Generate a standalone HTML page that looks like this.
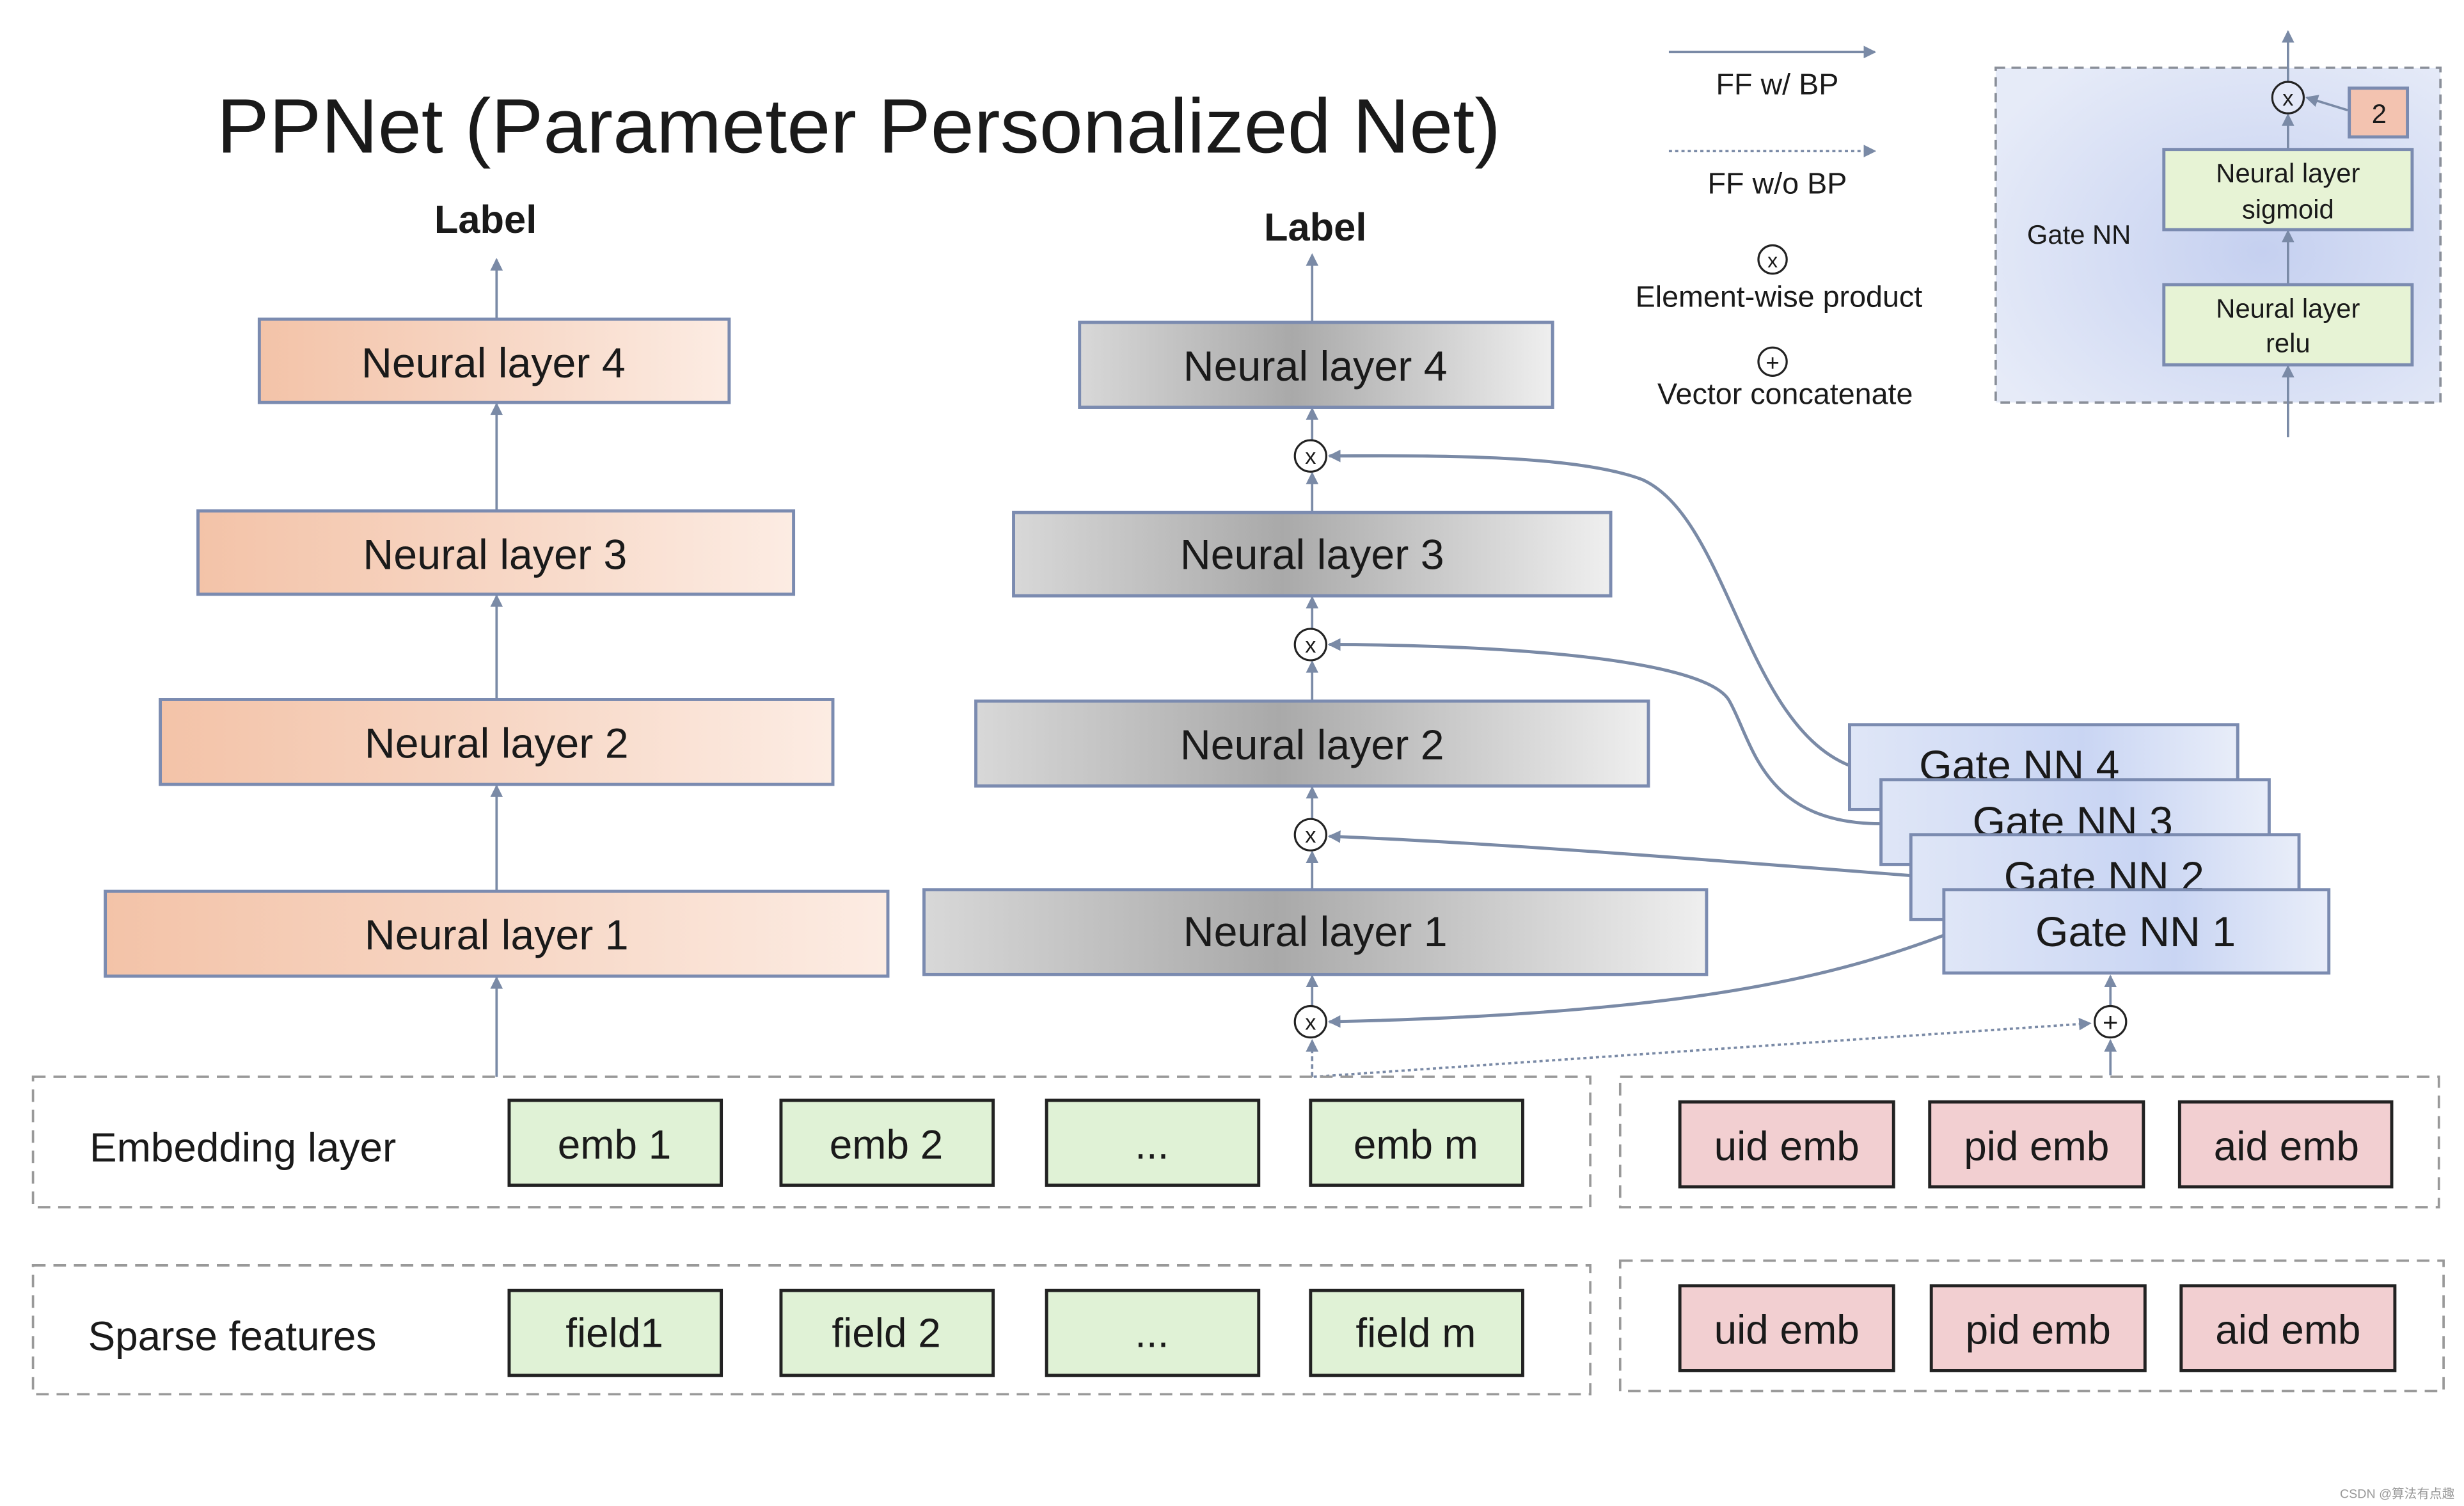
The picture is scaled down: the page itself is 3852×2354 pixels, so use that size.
<!DOCTYPE html>
<html><head><meta charset="utf-8"><style>
html,body{margin:0;padding:0;background:#fff;}
svg{display:block;}
text{font-family:"Liberation Sans",sans-serif;fill:#1a1a1a;}
</style></head><body>
<svg width="3852" height="2354" viewBox="0 0 1568 958" xmlns="http://www.w3.org/2000/svg">
<defs>
<linearGradient id="sal" x1="0" x2="1"><stop offset="0" stop-color="#f3c3a8"/><stop offset="0.5" stop-color="#f7d6c4"/><stop offset="1" stop-color="#fcece3"/></linearGradient>
<linearGradient id="gry" x1="0" x2="1"><stop offset="0" stop-color="#d8d8d8"/><stop offset="0.45" stop-color="#a9a9a9"/><stop offset="1" stop-color="#efefef"/></linearGradient>
<linearGradient id="blu" x1="0" x2="1"><stop offset="0" stop-color="#dfe6f7"/><stop offset="0.6" stop-color="#c9d5f3"/><stop offset="1" stop-color="#e8edf9"/></linearGradient>
<radialGradient id="inset" cx="0.6" cy="0.55" r="0.7"><stop offset="0" stop-color="#c5d0f0"/><stop offset="1" stop-color="#e6ebf8"/></radialGradient>
<marker id="ah" markerWidth="8" markerHeight="8" refX="7" refY="4" orient="auto" markerUnits="userSpaceOnUse"><path d="M0,0 L8,4 L0,8 z" fill="#7a8aa6"/></marker>
</defs>

<text x="138" y="97" font-size="49" textLength="817" lengthAdjust="spacingAndGlyphs">PPNet (Parameter Personalized Net)</text>

<g stroke="#7a8aa6" stroke-width="1.5" fill="none" marker-end="url(#ah)">
<line x1="316" y1="685" x2="316" y2="622"/>
<line x1="316" y1="567" x2="316" y2="500"/>
<line x1="316" y1="445" x2="316" y2="379"/>
<line x1="316" y1="325" x2="316" y2="257"/>
<line x1="316" y1="203" x2="316" y2="165"/>
</g>
<text x="309" y="148" font-size="25" font-weight="bold" text-anchor="middle">Label</text>
<g stroke="#7b8bb0" stroke-width="2" fill="url(#sal)">
<rect x="165" y="203" width="299" height="53"/>
<rect x="126" y="325" width="379" height="53"/>
<rect x="102" y="445" width="428" height="54"/>
<rect x="67" y="567" width="498" height="54"/>
</g>
<g font-size="27" text-anchor="middle">
<text x="314" y="240">Neural layer 4</text>
<text x="315" y="362">Neural layer 3</text>
<text x="316" y="482">Neural layer 2</text>
<text x="316" y="604">Neural layer 1</text>
</g>

<g stroke="#7a8aa6" stroke-width="1.5" fill="none" marker-end="url(#ah)">
<line x1="835" y1="685" x2="835" y2="662" stroke-dasharray="3,2"/>
<line x1="835" y1="640" x2="835" y2="621"/>
<line x1="835" y1="566" x2="835" y2="542"/>
<line x1="835" y1="521" x2="835" y2="501"/>
<line x1="835" y1="446" x2="835" y2="421"/>
<line x1="835" y1="400" x2="835" y2="380"/>
<line x1="835" y1="326" x2="835" y2="301"/>
<line x1="835" y1="280" x2="835" y2="260"/>
<line x1="835" y1="205" x2="835" y2="162"/>
</g>
<text x="837" y="153" font-size="25" font-weight="bold" text-anchor="middle">Label</text>
<g stroke="#7b8bb0" stroke-width="2" fill="url(#gry)">
<rect x="687" y="205" width="301" height="54"/>
<rect x="645" y="326" width="380" height="53"/>
<rect x="621" y="446" width="428" height="54"/>
<rect x="588" y="566" width="498" height="54"/>
</g>
<g font-size="27" text-anchor="middle">
<text x="837" y="242">Neural layer 4</text>
<text x="835" y="362">Neural layer 3</text>
<text x="835" y="483">Neural layer 2</text>
<text x="837" y="602">Neural layer 1</text>
</g>
<g stroke="#222" stroke-width="1.3" fill="#fff">
<circle cx="834" cy="290" r="10"/><circle cx="834" cy="410" r="10"/><circle cx="834" cy="531" r="10"/><circle cx="834" cy="650" r="10"/>
</g>
<g font-size="14" text-anchor="middle">
<text x="834" y="295">x</text><text x="834" y="415">x</text><text x="834" y="536">x</text><text x="834" y="655">x</text>
</g>

<g stroke="#7a8aa6" stroke-width="2" fill="none" marker-end="url(#ah)">
<path d="M1177,487 C1110,460 1100,330 1045,305 C1000,288 900,290 846,290"/>
<path d="M1197,524 C1120,524 1115,470 1100,445 C1080,415 920,410 846,410"/>
<path d="M1216,557 C1100,548 950,536 846,532"/>
<path d="M1237,595 C1170,620 1080,645 846,650"/>
</g>
<g stroke="#7a8aa6" stroke-width="1.5" fill="none">
<path d="M836,685 L1330,651" stroke-dasharray="2,2" marker-end="url(#ah)"/>
<line x1="1343" y1="684" x2="1343" y2="662" marker-end="url(#ah)"/>
<line x1="1343" y1="640" x2="1343" y2="621" marker-end="url(#ah)"/>
</g>
<circle cx="1343" cy="650" r="10" stroke="#222" stroke-width="1.3" fill="#fff"/>
<text x="1343" y="656" font-size="17" text-anchor="middle">+</text>

<g stroke="#7b8bb0" stroke-width="2" fill="url(#blu)" font-size="27">
<rect x="1177" y="461" width="247" height="54"/>
<text x="1285" y="496" text-anchor="middle" stroke="none">Gate NN 4</text>
<rect x="1197" y="496" width="247" height="54"/>
<text x="1319" y="532" text-anchor="middle" stroke="none">Gate NN 3</text>
<rect x="1216" y="531" width="247" height="54"/>
<text x="1339" y="567" text-anchor="middle" stroke="none">Gate NN 2</text>
<rect x="1237" y="566" width="245" height="53"/>
<text x="1359" y="602" text-anchor="middle" stroke="none">Gate NN 1</text>
</g>

<g stroke="#999" stroke-width="1.5" stroke-dasharray="8,5" fill="none">
<rect x="21" y="685" width="991" height="83"/>
<rect x="1031" y="685" width="521" height="83"/>
<rect x="21" y="805" width="991" height="82"/>
<rect x="1031" y="802" width="524" height="83"/>
</g>
<text x="57" y="739" font-size="26">Embedding layer</text>
<text x="56" y="859" font-size="26">Sparse features</text>
<g stroke="#222" stroke-width="2" fill="#e0f2d6">
<rect x="324" y="700" width="135" height="54"/><rect x="497" y="700" width="135" height="54"/><rect x="666" y="700" width="135" height="54"/><rect x="834" y="700" width="135" height="54"/>
<rect x="324" y="821" width="135" height="54"/><rect x="497" y="821" width="135" height="54"/><rect x="666" y="821" width="135" height="54"/><rect x="834" y="821" width="135" height="54"/>
</g>
<g stroke="#222" stroke-width="2" fill="#f2cfd1">
<rect x="1069" y="701" width="136" height="54"/><rect x="1228" y="701" width="136" height="54"/><rect x="1387" y="701" width="135" height="54"/>
<rect x="1069" y="818" width="136" height="54"/><rect x="1229" y="818" width="136" height="54"/><rect x="1388" y="818" width="136" height="54"/>
</g>
<g font-size="26" text-anchor="middle">
<text x="391" y="737">emb 1</text><text x="564" y="737">emb 2</text><text x="733" y="737">...</text><text x="901" y="737">emb m</text>
<text x="391" y="857">field1</text><text x="564" y="857">field 2</text><text x="733" y="857">...</text><text x="901" y="857">field m</text>
<text x="1137" y="738">uid emb</text><text x="1296" y="738">pid emb</text><text x="1455" y="738">aid emb</text>
<text x="1137" y="855">uid emb</text><text x="1297" y="855">pid emb</text><text x="1456" y="855">aid emb</text>
</g>

<g stroke="#7a8aa6" stroke-width="1.5" fill="none" marker-end="url(#ah)">
<line x1="1062" y1="33" x2="1193" y2="33"/>
<line x1="1062" y1="96" x2="1193" y2="96" stroke-dasharray="2,2"/>
</g>
<g font-size="19" text-anchor="middle">
<text x="1131" y="60">FF w/ BP</text>
<text x="1131" y="123">FF w/o BP</text>
<text x="1132" y="195">Element-wise product</text>
<text x="1136" y="257">Vector concatenate</text>
</g>
<circle cx="1128" cy="165" r="9" stroke="#222" stroke-width="1.3" fill="none"/>
<text x="1128" y="170" font-size="13" text-anchor="middle">x</text>
<circle cx="1128" cy="230" r="9" stroke="#222" stroke-width="1.3" fill="none"/>
<text x="1128" y="236" font-size="15" text-anchor="middle">+</text>

<rect x="1270" y="43" width="283" height="213" fill="url(#inset)" stroke="#8a8f99" stroke-width="1.5" stroke-dasharray="6,4"/>
<text x="1323" y="155" font-size="17" text-anchor="middle">Gate NN</text>
<g stroke="#7a8aa6" stroke-width="1.5" fill="none" marker-end="url(#ah)">
<line x1="1456" y1="278" x2="1456" y2="233"/>
<line x1="1456" y1="181" x2="1456" y2="147"/>
<line x1="1456" y1="95" x2="1456" y2="73"/>
<line x1="1456" y1="52" x2="1456" y2="20"/>
<line x1="1494" y1="70" x2="1468" y2="62"/>
</g>
<g stroke="#7b8bb0" stroke-width="2" fill="#e7f3d5">
<rect x="1377" y="95" width="158" height="51"/>
<rect x="1377" y="181" width="158" height="51"/>
</g>
<g font-size="17" text-anchor="middle">
<text x="1456" y="116">Neural layer</text><text x="1456" y="139">sigmoid</text>
<text x="1456" y="202">Neural layer</text><text x="1456" y="224">relu</text>
</g>
<circle cx="1456" cy="62" r="10" stroke="#222" stroke-width="1.3" fill="#e3e8f8"/>
<text x="1456" y="67" font-size="14" text-anchor="middle">x</text>
<rect x="1495" y="56" width="37" height="31" fill="#f3c3b0" stroke="#7b8bb0" stroke-width="2"/>
<text x="1514" y="78" font-size="17" text-anchor="middle">2</text>

<text x="1562" y="953" font-size="8" text-anchor="end" style="fill:#999">CSDN @算法有点趣</text>
</svg>
</body></html>
